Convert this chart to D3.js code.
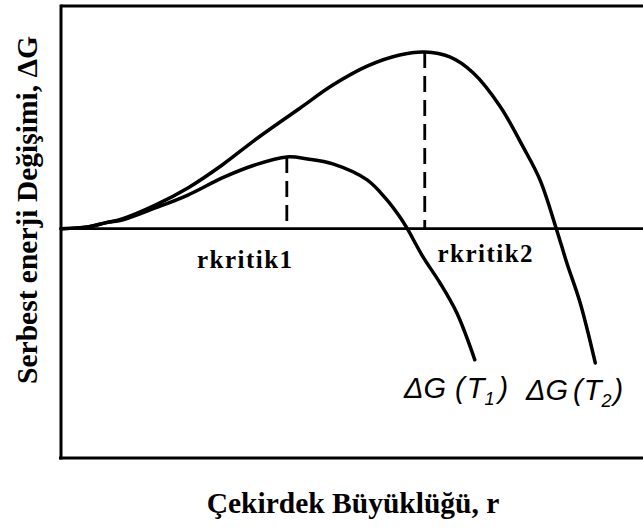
<!DOCTYPE html>
<html>
<head>
<meta charset="utf-8">
<script src="https://cdn.jsdelivr.net/npm/d3@7"></script>
<style>
  html, body { margin: 0; padding: 0; background: #fff; }
  svg { display: block; }
</style>
</head>
<body>
<svg id="chart" width="643" height="531"></svg>
<script>
// Nucleus size r (arbitrary units) and free-energy change ΔG for two temperatures
const rT1 = [0, 0.46, 0.76, 1.05, 1.62, 2.18, 2.77, 3.33, 3.88, 4.24, 4.67, 5.26, 5.60, 5.82, 5.95, 6.22, 6.51, 6.80, 7.11];
const gT1 = [0, 0.08, 0.26, 0.39, 0.93, 1.51, 2.28, 2.86, 3.22, 3.13, 2.91, 2.19, 1.29, 0.53, 0.00, -1.27, -2.43, -3.78, -5.89];

const rT2 = [0, 0.46, 0.76, 1.05, 1.62, 2.18, 2.77, 3.33, 4.11, 4.67, 5.26, 5.82, 6.25, 6.68, 7.08, 7.54, 7.94, 8.23, 8.51, 8.69, 8.92, 9.18];
const gT2 = [0, 0.08, 0.26, 0.44, 1.06, 1.83, 2.86, 3.98, 5.42, 6.45, 7.30, 7.80, 7.93, 7.71, 7.00, 5.51, 3.67, 2.19, 0.00, -1.53, -3.33, -6.03];

// Critical radii (maxima of each curve)
const critR = [3.88, 6.25];
const critG = [3.22, 7.93];
const critLabels = ["rkritik1", "rkritik2"];

const xLabel = "Çekirdek Büyüklüğü, r";
const yLabel = "Serbest enerji Değişimi, ΔG";

const svg = d3.select("#chart");

const x = d3.scaleLinear().domain([0, 10]).range([61, 643]);
const y = d3.scaleLinear().domain([-10.3, 10]).range([458, 6]);

const ink = "#000";

// Frame: top, left, bottom edges
svg.append("line").attr("x1", x(0)).attr("x2", x(10)).attr("y1", y(10)).attr("y2", y(10))
  .attr("stroke", ink).attr("stroke-width", 3);
svg.append("line").attr("x1", x(0)).attr("x2", x(0)).attr("y1", y(10) - 1.5).attr("y2", y(-10.3) + 1.5)
  .attr("stroke", ink).attr("stroke-width", 3);
svg.append("line").attr("x1", x(0) - 2).attr("x2", x(10)).attr("y1", y(-10.3)).attr("y2", y(-10.3))
  .attr("stroke", ink).attr("stroke-width", 3);

// ΔG = 0 baseline
svg.append("line").attr("x1", x(0)).attr("x2", x(10)).attr("y1", y(0)).attr("y2", y(0))
  .attr("stroke", ink).attr("stroke-width", 2.6);

// Dashed drops from each maximum
critR.forEach((r, i) => {
  svg.append("line")
    .attr("x1", x(r)).attr("x2", x(r))
    .attr("y1", y(critG[i])).attr("y2", y(0))
    .attr("stroke", ink).attr("stroke-width", 2.8)
    .attr("stroke-dasharray", "16,8");
});

const line = d3.line()
  .x(d => x(d[0]))
  .y(d => y(d[1]))
  .curve(d3.curveCatmullRom.alpha(0.5));

svg.append("path").datum(d3.zip(rT1, gT1))
  .attr("d", line).attr("fill", "none").attr("stroke", ink).attr("stroke-width", 3.5)
  .attr("stroke-linecap", "round");
svg.append("path").datum(d3.zip(rT2, gT2))
  .attr("d", line).attr("fill", "none").attr("stroke", ink).attr("stroke-width", 3.5)
  .attr("stroke-linecap", "round");

// Critical radius labels
const critPos = [[244.5, 268], [485, 262]];
critLabels.forEach((t, i) => {
  svg.append("text")
    .attr("x", critPos[i][0]).attr("y", critPos[i][1])
    .attr("text-anchor", "middle")
    .attr("font-family", "'Liberation Serif', 'Times New Roman', serif")
    .attr("font-weight", "bold")
    .attr("font-size", 25)
    .attr("textLength", 95).attr("lengthAdjust", "spacing")
    .attr("fill", ink)
    .text(t);
});

// Curve labels ΔG(T1), ΔG(T2)
const curveLabels = [
  { x: 404, y: 398, parts: [["ΔG", 0, false], ["(", 9, false], ["T", 2, false], ["1", 0, true], [")", 4, false]] },
  { x: 526, y: 400, parts: [["ΔG", 0, false], ["(", 5, false], ["T", 1, false], ["2", 0, true], [")", 2, false]] }
];
curveLabels.forEach(lbl => {
  const t = svg.append("text")
    .attr("x", lbl.x).attr("y", lbl.y)
    .attr("font-family", "'Liberation Sans', Arial, sans-serif")
    .attr("font-style", "italic")
    .attr("font-size", 29)
    .attr("fill", ink);
  lbl.parts.forEach(([s, dx, sub]) => {
    const ts = t.append("tspan").text(s).attr("dx", dx);
    if (sub) ts.attr("font-size", 18).attr("dy", 7);
    else if (s === ")") ts.attr("dy", -7);
  });
});

// Axis titles
svg.append("text")
  .attr("x", 353).attr("y", 513)
  .attr("text-anchor", "middle")
  .attr("font-family", "'Liberation Serif', 'Times New Roman', serif")
  .attr("font-weight", "bold")
  .attr("font-size", 29.5)
  .attr("fill", ink)
  .text(xLabel);

svg.append("text")
  .attr("transform", "translate(37,210) rotate(-90)")
  .attr("text-anchor", "middle")
  .attr("font-family", "'Liberation Serif', 'Times New Roman', serif")
  .attr("font-weight", "bold")
  .attr("font-size", 29.5)
  .attr("fill", ink)
  .text(yLabel);
</script>
</body>
</html>
